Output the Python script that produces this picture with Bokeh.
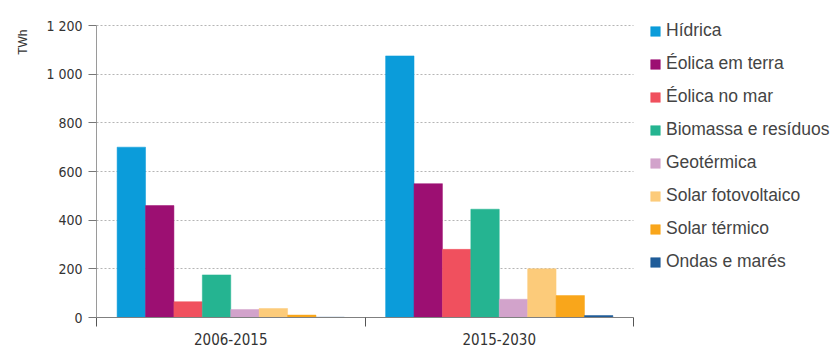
from bokeh.plotting import figure
from bokeh.models import (Range1d, LinearAxis, FixedTicker, Legend, LegendItem,
                          ColumnDataSource, Grid, Title)
from bokeh.transform import dodge
from bokeh.embed import file_html
from bokeh.resources import INLINE

# ---- data ----
periods = ["2006-2015", "2015-2030"]
period_pos = [0.5, 1.5]
series = ["Hídrica", "Éolica em terra", "Éolica no mar", "Biomassa e resíduos",
          "Geotérmica", "Solar fotovoltaico", "Solar térmico", "Ondas e marés"]
hidrica = [700, 1075]
eolica_terra = [460, 550]
eolica_mar = [65, 280]
biomassa = [175, 445]
geotermica = [33, 75]
solar_pv = [37, 200]
solar_termico = [10, 90]
ondas = [1, 8]
values = [hidrica, eolica_terra, eolica_mar, biomassa, geotermica, solar_pv,
          solar_termico, ondas]
colors = ["#0B9CDA", "#9C0F72", "#F0505E", "#25B491", "#D2A3CB", "#FCCB7A",
          "#F9A61B", "#1F5C99"]
y_ticks = [0, 200, 400, 600, 800, 1000, 1200]
y_top = 1200

NARROW = "DejaVu Sans Condensed"
SANS = "Liberation Sans"

# layout (pixels)
W, H = 837, 347
left, plot_right = 96, 633      # pixel extent of the two category slots
frame_top, y_top_px, frame_bottom = 5, 25, 317
x_end = 2 * (W - left) / (plot_right - left)   # frame runs on to hold the legend
y_end = y_top * (frame_bottom - frame_top) / (frame_bottom - y_top_px)

p = figure(width=W, height=H, output_backend="svg", toolbar_location=None,
           x_range=Range1d(0, x_end), y_range=Range1d(0, y_end),
           x_axis_type=None, y_axis_type=None,
           min_border_left=left, min_border_right=0, min_border_top=frame_top,
           min_border_bottom=0)
p.outline_line_color = None
p.background_fill_color = "white"
p.border_fill_color = "white"

# grid
p.add_layout(Grid(dimension=1, ticker=FixedTicker(ticks=y_ticks[1:]),
                  cross_bounds=(0, 2),
                  grid_line_color="#b5b5b5", grid_line_dash="2 2",
                  grid_line_width=1))

data = {"x": period_pos}
for name, vals in zip(series, values):
    data[name] = vals
src = ColumnDataSource(data)

bw = 0.1058
items = []
for i, (name, col) in enumerate(zip(series, colors)):
    off = (i - 3.5) * bw
    r = p.vbar(x=dodge("x", off, range=p.x_range), top=name, width=bw,
               source=src, fill_color=col, line_color=col, line_width=0.5)
    items.append(LegendItem(label=name, renderers=[r]))

# y axis
yax = LinearAxis(ticker=FixedTicker(ticks=y_ticks, minor_ticks=[]),
                 bounds=(0, y_top))
yax.major_label_overrides = {t: (f"{t:,}".replace(",", " ")) for t in y_ticks}
yax.axis_line_color = "#9a9a9a"
yax.major_tick_line_color = "#777777"
yax.major_tick_out = 8
yax.major_tick_in = 0
yax.major_label_standoff = 6
yax.major_label_text_font = NARROW
yax.major_label_text_font_size = "14px"
yax.major_label_text_color = "#333333"
p.add_layout(yax, "left")

# unit label (as a left-side title, aligned to the top)
p.add_layout(Title(text="TWh", align="right", text_font=SANS,
                   text_font_size="12px", text_font_style="normal",
                   text_color="#333333", standoff=27, offset=24), "left")

# x axis
xax = LinearAxis(ticker=FixedTicker(ticks=period_pos, minor_ticks=[0, 1, 2]),
                 bounds=(0, 2))
xax.major_label_overrides = {pos: lab for pos, lab in zip(period_pos, periods)}
xax.axis_line_color = "#808080"
xax.major_tick_line_color = None
xax.major_tick_out = 0
xax.major_tick_in = 0
xax.minor_tick_line_color = "#555555"
xax.minor_tick_out = 9
xax.minor_tick_in = 0
xax.major_label_standoff = 6
xax.major_label_text_font = NARROW
xax.major_label_text_font_size = "15px"
xax.major_label_text_color = "#333333"
p.add_layout(xax, "below")

legend = Legend(items=items, location=(553, 45), orientation="vertical",
                glyph_width=12, glyph_height=12, label_height=20, spacing=12,
                label_standoff=5, padding=0, margin=0,
                label_text_font=SANS, label_text_font_size="17.5px",
                label_text_color="#444444",
                border_line_color=None, background_fill_alpha=0)
p.add_layout(legend, "center")

open("out.html", "w").write(file_html(p, INLINE))
